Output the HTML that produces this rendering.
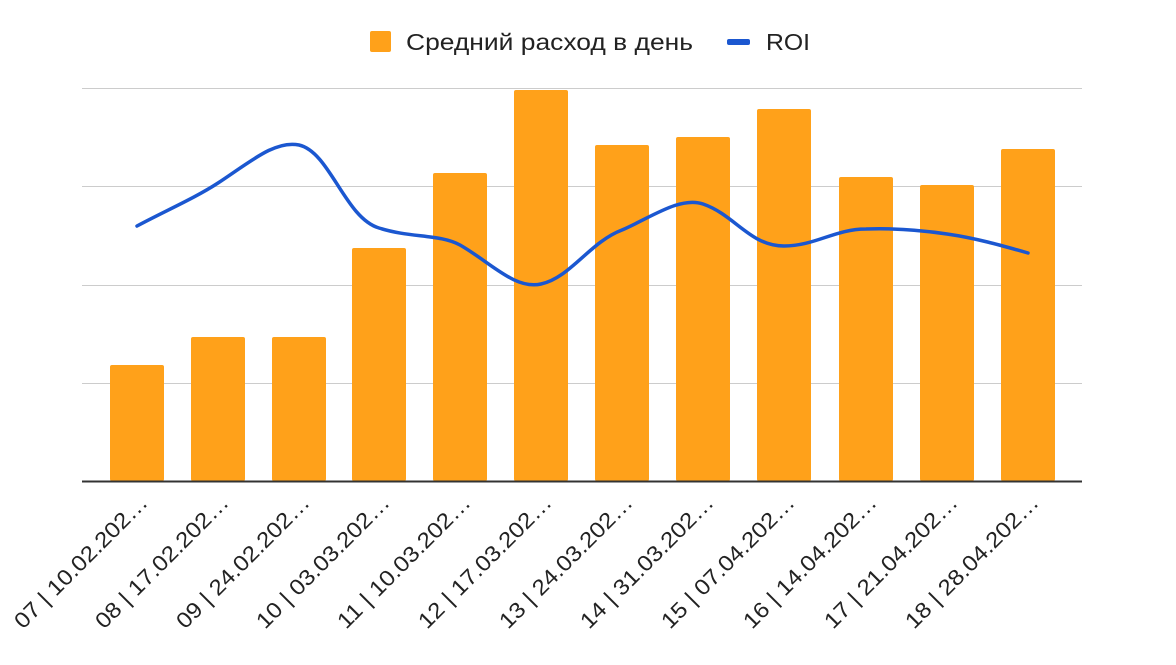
<!DOCTYPE html>
<html><head><meta charset="utf-8"><style>body{margin:0;background:#fff}svg{display:block}</style></head><body>
<svg width="1176" height="665" xmlns="http://www.w3.org/2000/svg" font-family="Liberation Sans, sans-serif">
<rect x="370" y="31" width="21" height="21" rx="2" fill="#ffa11a"/>
<text x="406" y="50" font-size="23" fill="#222" textLength="287" lengthAdjust="spacingAndGlyphs">Средний расход в день</text>
<rect x="727" y="39" width="23" height="6" rx="2" fill="#1b57d0"/>
<text x="766" y="50" font-size="23" fill="#222" textLength="44" lengthAdjust="spacingAndGlyphs">ROI</text>
<g stroke="#ccc" stroke-width="1">
<line x1="82" x2="1082" y1="88.5" y2="88.5"/><line x1="82" x2="1082" y1="186.5" y2="186.5"/>
<line x1="82" x2="1082" y1="285.5" y2="285.5"/><line x1="82" x2="1082" y1="383.5" y2="383.5"/>
</g>
<g fill="#ffa11a">
<rect x="110" y="365" width="54" height="116" rx="2"/>
<rect x="191" y="337" width="54" height="144" rx="2"/>
<rect x="272" y="337" width="54" height="144" rx="2"/>
<rect x="352" y="248" width="54" height="233" rx="2"/>
<rect x="433" y="173" width="54" height="308" rx="2"/>
<rect x="514" y="90" width="54" height="391" rx="2"/>
<rect x="595" y="145" width="54" height="336" rx="2"/>
<rect x="676" y="137" width="54" height="344" rx="2"/>
<rect x="757" y="109" width="54" height="372" rx="2"/>
<rect x="839" y="177" width="54" height="304" rx="2"/>
<rect x="920" y="185" width="54" height="296" rx="2"/>
<rect x="1001" y="149" width="54" height="332" rx="2"/>
</g>
<line x1="82" x2="1082" y1="481.5" y2="481.5" stroke="#333" stroke-width="2"/>
<path d="M137,226 C165,211 195,198 218,183 C250,162 275,140 299,145 C330,152 345,218 379,228 C410,238 440,234 460,245 C490,262 515,290 541,284 C570,278 590,242 622,230 C650,218 680,196 703,204 C735,215 750,246 784,246 C815,246 835,229 866,229 C895,228 920,230 947,234 C975,238 1000,245 1028,253" fill="none" stroke="#1b57d0" stroke-width="3.5" stroke-linecap="round"/>
<g font-size="22" fill="#222" text-anchor="end">
<text transform="translate(149,504) rotate(-45)" textLength="178" lengthAdjust="spacingAndGlyphs">07 | 10.02.202…</text>
<text transform="translate(230,504) rotate(-45)" textLength="178" lengthAdjust="spacingAndGlyphs">08 | 17.02.202…</text>
<text transform="translate(311,504) rotate(-45)" textLength="178" lengthAdjust="spacingAndGlyphs">09 | 24.02.202…</text>
<text transform="translate(391,504) rotate(-45)" textLength="178" lengthAdjust="spacingAndGlyphs">10 | 03.03.202…</text>
<text transform="translate(472,504) rotate(-45)" textLength="178" lengthAdjust="spacingAndGlyphs">11 | 10.03.202…</text>
<text transform="translate(553,504) rotate(-45)" textLength="178" lengthAdjust="spacingAndGlyphs">12 | 17.03.202…</text>
<text transform="translate(634,504) rotate(-45)" textLength="178" lengthAdjust="spacingAndGlyphs">13 | 24.03.202…</text>
<text transform="translate(715,504) rotate(-45)" textLength="178" lengthAdjust="spacingAndGlyphs">14 | 31.03.202…</text>
<text transform="translate(796,504) rotate(-45)" textLength="178" lengthAdjust="spacingAndGlyphs">15 | 07.04.202…</text>
<text transform="translate(878,504) rotate(-45)" textLength="178" lengthAdjust="spacingAndGlyphs">16 | 14.04.202…</text>
<text transform="translate(959,504) rotate(-45)" textLength="178" lengthAdjust="spacingAndGlyphs">17 | 21.04.202…</text>
<text transform="translate(1040,504) rotate(-45)" textLength="178" lengthAdjust="spacingAndGlyphs">18 | 28.04.202…</text>
</g>
</svg>
</body></html>
